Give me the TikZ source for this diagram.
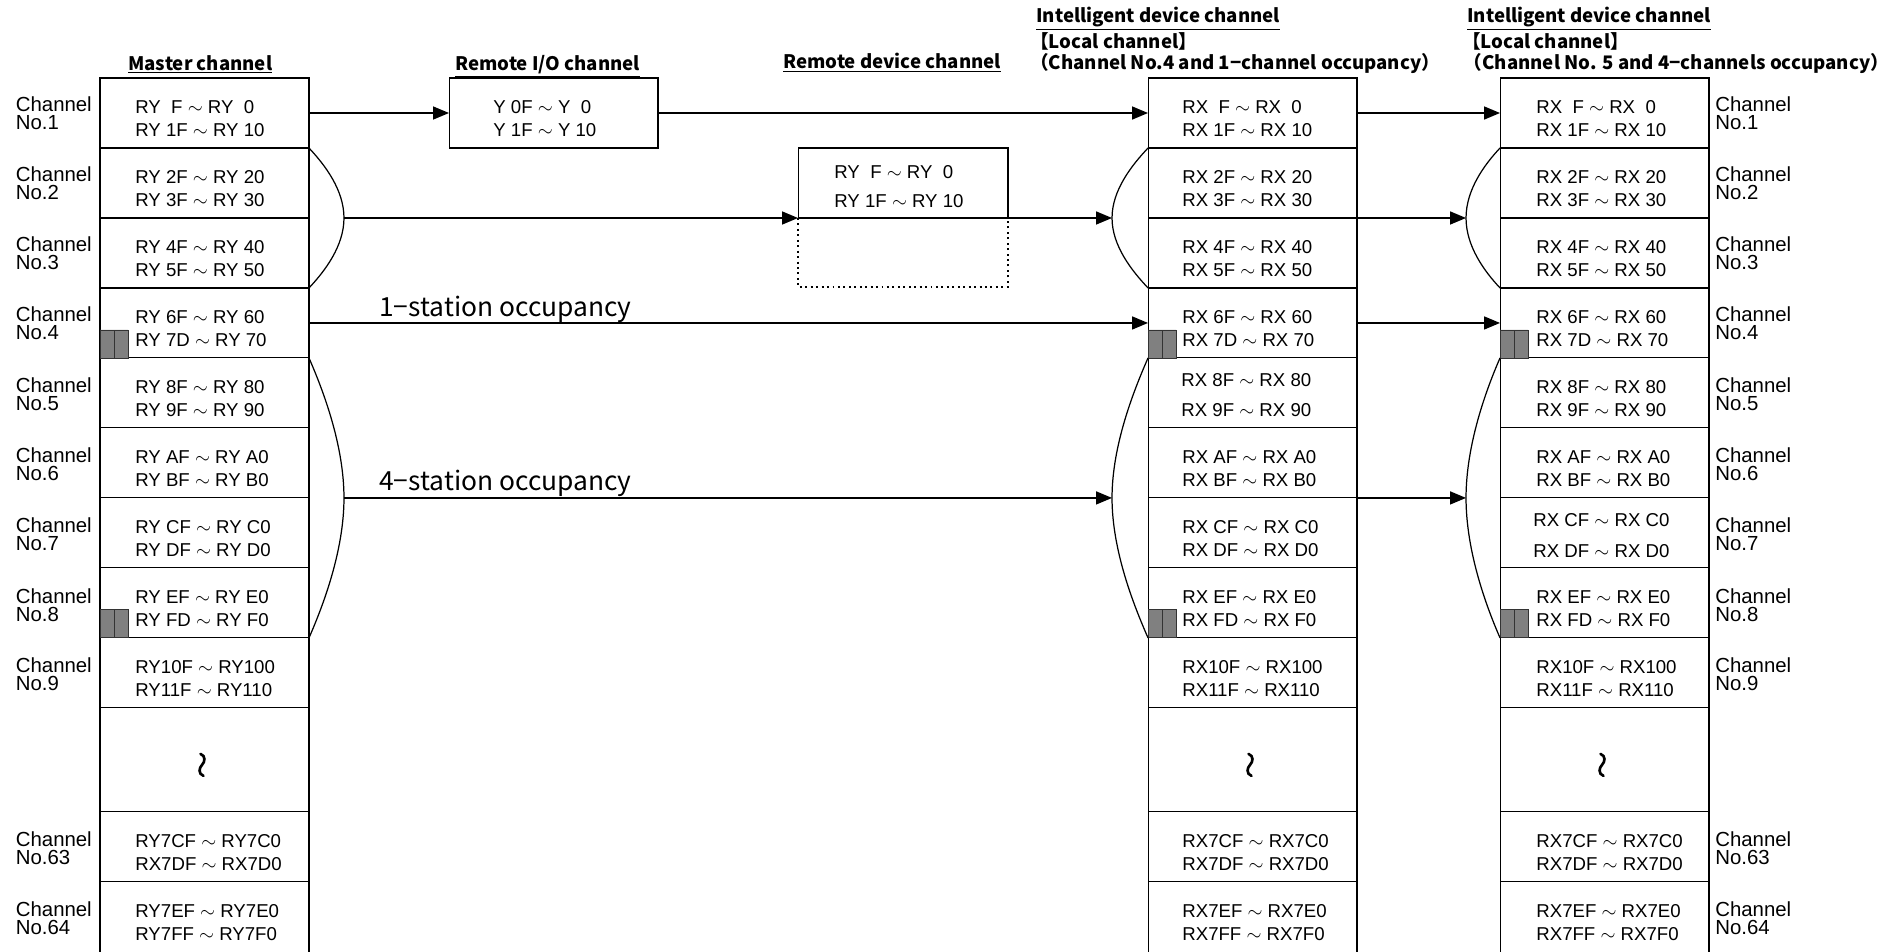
\documentclass[tikz,border=0pt]{standalone}
\usepackage{fontspec}
\setmainfont{Liberation Sans}
\newfontfamily\jpfont{Noto Sans CJK JP}
\usetikzlibrary{arrows.meta,positioning}
\newcommand{\wv}{\;$\sim$\;}

\begin{document}
\begin{tikzpicture}[x=0.02cm,y=-0.02cm,
  cell/.style={draw,line width=0.6pt,minimum width=4.18cm,minimum height=1.4cm,inner sep=0pt,outer sep=0pt},
  gapcell/.style={cell,minimum height=2.08cm},
  lastcell/.style={cell,minimum height=1.46cm},
  regtxt/.style={anchor=base west,align=left,inner sep=0pt,font=\fontsize{10.6}{13.2}\selectfont},
  chlbl/.style={anchor=base west,align=left,inner sep=0pt,font=\fontsize{11.6}{10.4}\selectfont},
  hdr/.style={anchor=base west,align=left,inner sep=0pt,font=\jpfont\bfseries\fontsize{10.6}{12.2}\selectfont},
  occ/.style={anchor=base west,inner sep=0pt,font=\jpfont\fontsize{15}{18}\selectfont},
  wvline/.style={line width=1.5pt,line cap=round},
  flow/.style={line width=0.9pt,-{Triangle[length=0.32cm,width=0.26cm]}},
  brkt/.style={line width=0.7pt},
  occsq/.style={draw=black!80,line width=0.5pt,fill=black!50}
]
\useasboundingbox (0,0) rectangle (1892,951);

% headers
\node[hdr] (M-h) at (128,70) {\underline{Master channel}};
\node[hdr] (IO-h) at (455,70) {\underline{Remote I/O channel}};
\node[hdr] (RD-h) at (783,68.5) {\underline{Remote device channel}};
\node[hdr] (L1-h) at (1036,69.5) {\underline{Intelligent device channel}\\\hspace*{-3.5pt}【Local channel】\\\hspace*{-3.5pt}（Channel No.4 and 1−channel occupancy）};
\node[hdr] (L2-h) at (1467,69.5) {\underline{Intelligent device channel}\\\hspace*{-3pt}【Local channel】\\\hspace*{-2pt}（Channel No. 5 and 4−channels occupancy）};

% master channel
\node[cell] (M-1) at (204.5,113) {};
\node[cell,below=0pt of M-1] (M-2) {};
\node[cell,below=0pt of M-2] (M-3) {};
\node[cell,below=0pt of M-3] (M-4) {};
\node[cell,below=0pt of M-4] (M-5) {};
\node[cell,below=0pt of M-5] (M-6) {};
\node[cell,below=0pt of M-6] (M-7) {};
\node[cell,below=0pt of M-7] (M-8) {};
\node[cell,below=0pt of M-8] (M-9) {};
\node[gapcell,below=0pt of M-9] (M-g) {};
\node[cell,below=0pt of M-g] (M-63) {};
\node[lastcell,below=0pt of M-63] (M-64) {};

\node[regtxt] (M-1t) at ([shift={(35,58.6)}]M-1.north west) {RY\ \ F\wv RY\ \ 0\\RY 1F\wv RY 10};
\node[regtxt] (M-2t) at ([shift={(35,58.6)}]M-2.north west) {RY 2F\wv RY 20\\RY 3F\wv RY 30};
\node[regtxt] (M-3t) at ([shift={(35,58.6)}]M-3.north west) {RY 4F\wv RY 40\\RY 5F\wv RY 50};
\node[regtxt] (M-4t) at ([shift={(35,58.6)}]M-4.north west) {RY 6F\wv RY 60\\RY 7D\wv RY 70};
\node[regtxt] (M-5t) at ([shift={(35,58.6)}]M-5.north west) {RY 8F\wv RY 80\\RY 9F\wv RY 90};
\node[regtxt] (M-6t) at ([shift={(35,58.6)}]M-6.north west) {RY AF\wv RY A0\\RY BF\wv RY B0};
\node[regtxt] (M-7t) at ([shift={(35,58.6)}]M-7.north west) {RY CF\wv RY C0\\RY DF\wv RY D0};
\node[regtxt] (M-8t) at ([shift={(35,58.6)}]M-8.north west) {RY EF\wv RY E0\\RY FD\wv RY F0};
\node[regtxt] (M-9t) at ([shift={(35,58.6)}]M-9.north west) {RY10F\wv RY100\\RY11F\wv RY110};
\draw[wvline] ([shift={(-4,-6)}]M-g.center) .. controls +(5.5,2) and +(3,-3) .. ++(1.5,11)
  .. controls +(-3,3) and +(-5.5,-2) .. ++(1.5,11);
\node[regtxt] (M-63t) at ([shift={(35,58.6)}]M-63.north west) {RY7CF\wv RY7C0\\RX7DF\wv RX7D0};
\node[regtxt] (M-64t) at ([shift={(35,58.6)}]M-64.north west) {RY7EF\wv RY7E0\\RY7FF\wv RY7F0};

\node[chlbl] (C-1) at ([shift={(-84.5,51.5)}]M-1.north west) {Channel\\No.1};
\node[chlbl] (C-2) at ([shift={(-84.5,51.5)}]M-2.north west) {Channel\\No.2};
\node[chlbl] (C-3) at ([shift={(-84.5,51.5)}]M-3.north west) {Channel\\No.3};
\node[chlbl] (C-4) at ([shift={(-84.5,51.5)}]M-4.north west) {Channel\\No.4};
\node[chlbl] (C-5) at ([shift={(-84.5,52.5)}]M-5.north west) {Channel\\No.5};
\node[chlbl] (C-6) at ([shift={(-84.5,52.5)}]M-6.north west) {Channel\\No.6};
\node[chlbl] (C-7) at ([shift={(-84.5,52.5)}]M-7.north west) {Channel\\No.7};
\node[chlbl] (C-8) at ([shift={(-84.5,54)}]M-8.north west) {Channel\\No.8};
\node[chlbl] (C-9) at ([shift={(-84.5,53)}]M-9.north west) {Channel\\No.9};
\node[chlbl] (C-63) at ([shift={(-84.5,53)}]M-63.north west) {Channel\\No.63};
\node[chlbl] (C-64) at ([shift={(-84.5,52.5)}]M-64.north west) {Channel\\No.64};

% remote stations
\node[cell] (IO) at (553.5,113) {};
\node[regtxt] (IO-t) at ([shift={(44,58.6)}]IO.north west) {Y 0F\wv Y\ \ 0\\Y 1F\wv Y 10};
\node[cell,minimum width=4.2cm] (RD) at (903,183) {};
\node[regtxt] (RD-t) at ([shift={(36,59.3)}]RD.north west) {RY\ \ F\wv RY\ \ 0\\[3.2pt]RY 1F\wv RY 10};
\draw[line width=0.9pt,dash pattern=on 1.1pt off 2pt] (RD.south west) -- ++(0,69) -| (RD.south east);

% intelligent device channel No.4
\node[cell] (L1-1) at (1252.5,113) {};
\node[cell,below=0pt of L1-1] (L1-2) {};
\node[cell,below=0pt of L1-2] (L1-3) {};
\node[cell,below=0pt of L1-3] (L1-4) {};
\node[cell,below=0pt of L1-4] (L1-5) {};
\node[cell,below=0pt of L1-5] (L1-6) {};
\node[cell,below=0pt of L1-6] (L1-7) {};
\node[cell,below=0pt of L1-7] (L1-8) {};
\node[cell,below=0pt of L1-8] (L1-9) {};
\node[gapcell,below=0pt of L1-9] (L1-g) {};
\node[cell,below=0pt of L1-g] (L1-63) {};
\node[lastcell,below=0pt of L1-63] (L1-64) {};

\node[regtxt] (L1-1t) at ([shift={(34,58.6)}]L1-1.north west) {RX\ \ F\wv RX\ \ 0\\RX 1F\wv RX 10};
\node[regtxt] (L1-2t) at ([shift={(34,58.6)}]L1-2.north west) {RX 2F\wv RX 20\\RX 3F\wv RX 30};
\node[regtxt] (L1-3t) at ([shift={(34,58.6)}]L1-3.north west) {RX 4F\wv RX 40\\RX 5F\wv RX 50};
\node[regtxt] (L1-4t) at ([shift={(34,58.6)}]L1-4.north west) {RX 6F\wv RX 60\\RX 7D\wv RX 70};
\node[regtxt] (L1-5t) at ([shift={(33,58.7)}]L1-5.north west) {RX 8F\wv RX 80\\[4.2pt]RX 9F\wv RX 90};
\node[regtxt] (L1-6t) at ([shift={(34,58.6)}]L1-6.north west) {RX AF\wv RX A0\\RX BF\wv RX B0};
\node[regtxt] (L1-7t) at ([shift={(34,58.6)}]L1-7.north west) {RX CF\wv RX C0\\RX DF\wv RX D0};
\node[regtxt] (L1-8t) at ([shift={(34,58.6)}]L1-8.north west) {RX EF\wv RX E0\\RX FD\wv RX F0};
\node[regtxt] (L1-9t) at ([shift={(34,58.6)}]L1-9.north west) {RX10F\wv RX100\\RX11F\wv RX110};
\draw[wvline] ([shift={(-4,-6)}]L1-g.center) .. controls +(5.5,2) and +(3,-3) .. ++(1.5,11)
  .. controls +(-3,3) and +(-5.5,-2) .. ++(1.5,11);
\node[regtxt] (L1-63t) at ([shift={(34,58.6)}]L1-63.north west) {RX7CF\wv RX7C0\\RX7DF\wv RX7D0};
\node[regtxt] (L1-64t) at ([shift={(34,58.6)}]L1-64.north west) {RX7EF\wv RX7E0\\RX7FF\wv RX7F0};

% intelligent device channel No.5
\node[cell] (L2-1) at (1604.5,113) {};
\node[cell,below=0pt of L2-1] (L2-2) {};
\node[cell,below=0pt of L2-2] (L2-3) {};
\node[cell,below=0pt of L2-3] (L2-4) {};
\node[cell,below=0pt of L2-4] (L2-5) {};
\node[cell,below=0pt of L2-5] (L2-6) {};
\node[cell,below=0pt of L2-6] (L2-7) {};
\node[cell,below=0pt of L2-7] (L2-8) {};
\node[cell,below=0pt of L2-8] (L2-9) {};
\node[gapcell,below=0pt of L2-9] (L2-g) {};
\node[cell,below=0pt of L2-g] (L2-63) {};
\node[lastcell,below=0pt of L2-63] (L2-64) {};

\node[regtxt] (L2-1t) at ([shift={(36,58.6)}]L2-1.north west) {RX\ \ F\wv RX\ \ 0\\RX 1F\wv RX 10};
\node[regtxt] (L2-2t) at ([shift={(36,58.6)}]L2-2.north west) {RX 2F\wv RX 20\\RX 3F\wv RX 30};
\node[regtxt] (L2-3t) at ([shift={(36,58.6)}]L2-3.north west) {RX 4F\wv RX 40\\RX 5F\wv RX 50};
\node[regtxt] (L2-4t) at ([shift={(36,58.6)}]L2-4.north west) {RX 6F\wv RX 60\\RX 7D\wv RX 70};
\node[regtxt] (L2-5t) at ([shift={(36,58.6)}]L2-5.north west) {RX 8F\wv RX 80\\RX 9F\wv RX 90};
\node[regtxt] (L2-6t) at ([shift={(36,58.6)}]L2-6.north west) {RX AF\wv RX A0\\RX BF\wv RX B0};
\node[regtxt] (L2-7t) at ([shift={(33,59.3)}]L2-7.north west) {RX CF\wv RX C0\\[4.2pt]RX DF\wv RX D0};
\node[regtxt] (L2-8t) at ([shift={(36,58.6)}]L2-8.north west) {RX EF\wv RX E0\\RX FD\wv RX F0};
\node[regtxt] (L2-9t) at ([shift={(36,58.6)}]L2-9.north west) {RX10F\wv RX100\\RX11F\wv RX110};
\draw[wvline] ([shift={(-4,-6)}]L2-g.center) .. controls +(5.5,2) and +(3,-3) .. ++(1.5,11)
  .. controls +(-3,3) and +(-5.5,-2) .. ++(1.5,11);
\node[regtxt] (L2-63t) at ([shift={(36,58.6)}]L2-63.north west) {RX7CF\wv RX7C0\\RX7DF\wv RX7D0};
\node[regtxt] (L2-64t) at ([shift={(36,58.6)}]L2-64.north west) {RX7EF\wv RX7E0\\RX7FF\wv RX7F0};

\node[chlbl] (R-1) at ([shift={(6,51.5)}]L2-1.north east) {Channel\\No.1};
\node[chlbl] (R-2) at ([shift={(6,51.5)}]L2-2.north east) {Channel\\No.2};
\node[chlbl] (R-3) at ([shift={(6,51.5)}]L2-3.north east) {Channel\\No.3};
\node[chlbl] (R-4) at ([shift={(6,51.5)}]L2-4.north east) {Channel\\No.4};
\node[chlbl] (R-5) at ([shift={(6,52.5)}]L2-5.north east) {Channel\\No.5};
\node[chlbl] (R-6) at ([shift={(6,52.5)}]L2-6.north east) {Channel\\No.6};
\node[chlbl] (R-7) at ([shift={(6,52.5)}]L2-7.north east) {Channel\\No.7};
\node[chlbl] (R-8) at ([shift={(6,54)}]L2-8.north east) {Channel\\No.8};
\node[chlbl] (R-9) at ([shift={(6,53)}]L2-9.north east) {Channel\\No.9};
\node[chlbl] (R-63) at ([shift={(6,53)}]L2-63.north east) {Channel\\No.63};
\node[chlbl] (R-64) at ([shift={(6,52.5)}]L2-64.north east) {Channel\\No.64};

% occupied points
\draw[occsq] ([shift={(0,-28)}]M-4.south west) rectangle ++(14,28) rectangle ++(14,-28);
\draw[occsq] ([shift={(0,-28)}]M-8.south west) rectangle ++(14,28) rectangle ++(14,-28);
\draw[occsq] ([shift={(0,-28)}]L1-4.south west) rectangle ++(14,28) rectangle ++(14,-28);
\draw[occsq] ([shift={(0,-28)}]L1-8.south west) rectangle ++(14,28) rectangle ++(14,-28);
\draw[occsq] ([shift={(0,-28)}]L2-4.south west) rectangle ++(14,28) rectangle ++(14,-28);
\draw[occsq] ([shift={(0,-28)}]L2-8.south west) rectangle ++(14,28) rectangle ++(14,-28);

% brackets
\coordinate (M-a1) at ([shift={(35,0)}]M-2.south east);
\coordinate (M-a2) at ([shift={(35,0)}]M-6.south east);
\coordinate (L1-a1) at ([shift={(-36,0)}]L1-2.south west);
\coordinate (L1-a2) at ([shift={(-36,0)}]L1-6.south west);
\coordinate (L2-a1) at ([shift={(-34,0)}]L2-2.south west);
\coordinate (L2-a2) at ([shift={(-34,0)}]L2-6.south west);

\draw[brkt] (M-2.north east) .. controls +(16,17) and +(0,-28) .. (M-a1)
  .. controls +(0,28) and +(16,-17) .. (M-3.south east);
\draw[brkt] (M-5.north east) .. controls +(14,32) and +(0,-53) .. (M-a2)
  .. controls +(0,53) and +(14,-32) .. (M-8.south east);
\draw[brkt] (L1-2.north west) .. controls +(-16,17) and +(0,-28) .. (L1-a1)
  .. controls +(0,28) and +(-16,-17) .. (L1-3.south west);
\draw[brkt] (L1-5.north west) .. controls +(-14,32) and +(0,-53) .. (L1-a2)
  .. controls +(0,53) and +(-14,-32) .. (L1-8.south west);
\draw[brkt] (L2-2.north west) .. controls +(-16,17) and +(0,-28) .. (L2-a1)
  .. controls +(0,28) and +(-16,-17) .. (L2-3.south west);
\draw[brkt] (L2-5.north west) .. controls +(-14,32) and +(0,-53) .. (L2-a2)
  .. controls +(0,53) and +(-14,-32) .. (L2-8.south west);

% links
\draw[flow] (M-1.east) -- (IO.west);
\draw[flow] (IO.east) -- (L1-1.west);
\draw[flow] (L1-1.east) -- (L2-1.west);
\draw[flow] (M-a1) -- (RD.south west);
\draw[flow] (RD.south east) -- (L1-a1);
\draw[flow] (L1-2.south east) -- (L2-a1);
\draw[flow] (M-4.east) -- (L1-4.west);
\draw[flow] (L1-4.east) -- (L2-4.west);
\draw[flow] (M-a2) -- (L1-a2);
\draw[flow] (L1-6.south east) -- (L2-a2);

\node[occ] (occ1) at (379,316.5) {1−station occupancy};
\node[occ] (occ4) at (379,490) {4−station occupancy};
\end{tikzpicture}
\end{document}
